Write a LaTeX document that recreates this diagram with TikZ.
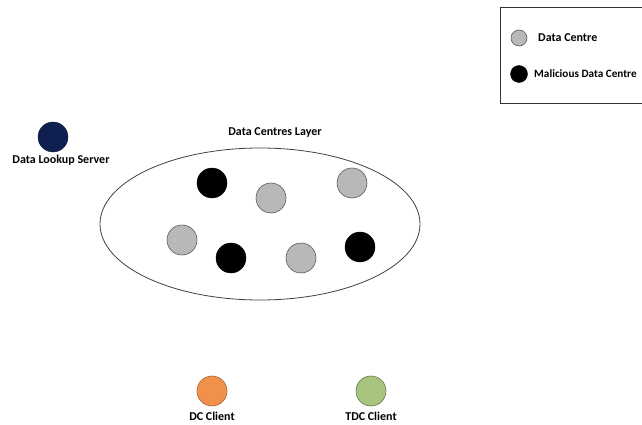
\documentclass[tikz,border=0pt]{standalone}
\usepackage{fontspec}
\setmainfont{Carlito}
\usetikzlibrary{shapes.geometric}
\begin{document}
\begin{tikzpicture}[x=1pt,y=-1pt,
  dc/.style={circle,draw=gray!70!black,fill=black!28,minimum size=30pt,inner sep=0pt,line width=0.6pt},
  mdc/.style={circle,draw=black,fill=black,minimum size=30pt,inner sep=0pt},
  lbl/.style={font=\bfseries\fontsize{12}{14}\selectfont,inner sep=0pt}]
\definecolor{navy}{HTML}{0F1F4F}
\definecolor{orangec}{HTML}{F0904A}
\definecolor{greenc}{HTML}{A9C47F}
\useasboundingbox (0,0) rectangle (642,425);
\clip (0,0) rectangle (642,425);
% legend
\node[draw=black!80,line width=0.7pt,minimum width=200pt,minimum height=96pt,anchor=north west,inner sep=0pt] (legend) at (500,7) {};
\node[dc,minimum size=16pt] (lgdc) at (519,38) {};
\node[lbl,anchor=west] (lgdct) at (538,38) {Data Centre};
\node[mdc,minimum size=17pt] (lgmdc) at (519,74) {};
\node[lbl,anchor=west,font=\bfseries\fontsize{11.2}{13}\selectfont] (lgmdct) at (534,74) {Malicious Data Centre};
% lookup server
\node[circle,fill=navy,draw=navy!80!black,minimum size=30pt,inner sep=0pt] (dls) at (53,137) {};
\node[lbl] (dlst) at (61,160) {Data Lookup Server};
% layer
\node[draw=black!75,line width=0.8pt,ellipse,minimum width=320pt,minimum height=152pt,inner sep=0pt] (layer) at (260,224) {};
\node[lbl] (layert) at (275,133) {Data Centres Layer};
\node[mdc] (m1) at (212,183) {};
\node[dc] (g1) at (271,198) {};
\node[dc] (g2) at (352,183) {};
\node[dc] (g3) at (182,240) {};
\node[mdc] (m2) at (231,258) {};
\node[dc] (g4) at (301,258) {};
\node[mdc] (m3) at (360,247) {};
% clients
\node[circle,fill=orangec,draw=orangec!70!black,minimum size=30pt,inner sep=0pt,line width=0.6pt] (dcc) at (212,391) {};
\node[lbl] (dcct) at (212,416) {DC Client};
\node[circle,fill=greenc,draw=greenc!60!black,minimum size=30pt,inner sep=0pt,line width=0.6pt] (tdc) at (371,391) {};
\node[lbl] (tdct) at (371,416) {TDC Client};
\end{tikzpicture}
\end{document}
